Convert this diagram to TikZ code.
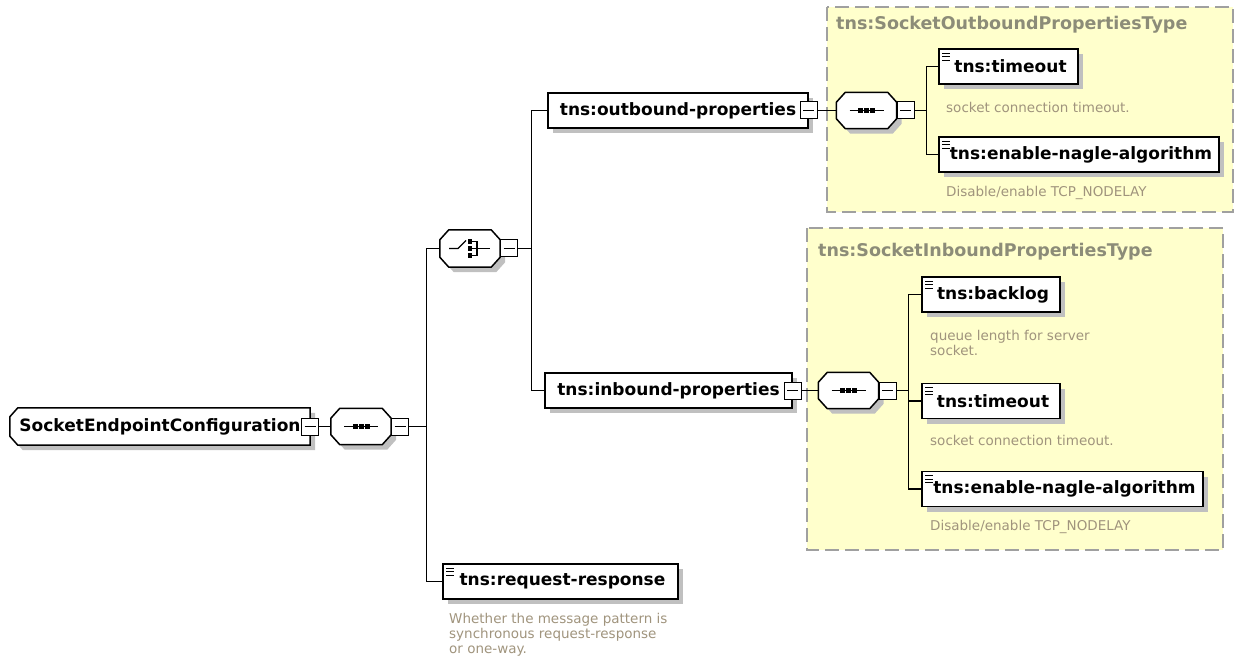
\documentclass[tikz,border=0pt]{standalone}
\usepackage{fontspec}
\setmainfont{DejaVu Sans}
\usetikzlibrary{shadows, backgrounds}

\definecolor{typefill}{RGB}{255,255,204}
\definecolor{typeline}{RGB}{160,160,160}
\definecolor{typetext}{RGB}{140,140,120}
\definecolor{doctext}{RGB}{160,148,125}
\definecolor{shadowgray}{RGB}{192,192,192}

% outline of a compositor node (#2 = shadow offset)
\newcommand\octpath[2]{([xshift=9pt+#2,yshift=-#2]#1.north west) -- ([xshift=-9pt+#2,yshift=-#2]#1.north east)
    -- ([xshift=#2,yshift=-10pt-#2]#1.north east) -- ([xshift=#2,yshift=10pt-#2]#1.south east)
    -- ([xshift=-9pt+#2,yshift=-#2]#1.south east) -- ([xshift=9pt+#2,yshift=-#2]#1.south west)
    -- ([xshift=#2,yshift=10pt-#2]#1.south west) -- ([xshift=#2,yshift=-10pt-#2]#1.north west) -- cycle}
% outline of the root element, left corners cut
\newcommand\rootpath[2]{([xshift=8pt+#2,yshift=-#2]#1.north west) -- ([xshift=#2,yshift=-#2]#1.north east)
    -- ([xshift=#2,yshift=-#2]#1.south east) -- ([xshift=8pt+#2,yshift=-#2]#1.south west)
    -- ([xshift=#2,yshift=9pt-#2]#1.south west) -- ([xshift=#2,yshift=-9pt-#2]#1.north west) -- cycle}

\tikzset{
    elem/.style={draw, fill=white, line width=1.5pt, minimum height=35pt, inner sep=0pt,
        font=\fontsize{17}{20}\selectfont\bfseries,
        drop shadow={shadow xshift=5pt, shadow yshift=-5pt, fill=shadowgray, opacity=1}},
    leaf/.style={elem, path picture={
        \foreach \k in {4,7.5,11}
            \draw[line width=0.9pt] ([xshift=3pt,yshift=-\k pt]path picture bounding box.north west) -- ++(8pt,0);}},
    rootbox/.style={minimum width=300pt, minimum height=37pt, inner sep=0pt,
        font=\fontsize{17}{20}\selectfont\bfseries},
    comp/.style={minimum width=60pt, minimum height=36pt, inner sep=0pt},
    minus/.style={draw, fill=white, line width=1pt, minimum size=17pt, inner sep=0pt,
        path picture={\draw[line width=1pt] ([xshift=3pt]path picture bounding box.west) -- ([xshift=-3pt]path picture bounding box.east);}},
    wire/.style={line width=1.4pt},
    typebox/.style={fill=typefill, draw=typeline, line width=1.5pt, dash pattern=on 14pt off 6pt},
    typetitle/.style={font=\fontsize{17.5}{20}\selectfont\bfseries, text=typetext, inner sep=0pt},
    doc/.style={font=\fontsize{13.5}{15}\selectfont, text=doctext, inner sep=0pt, align=left}
}

\begin{document}
\begin{tikzpicture}[x=1pt, y=-1pt]
\useasboundingbox (0,0) rectangle (1234,668);

% Type boxes
\draw[typebox] (827,7) rectangle (1233,212);
\draw[typebox] (807,228) rectangle (1223,550);
\node[typetitle, anchor=west] (outtitle) at (836,25) {tns:SocketOutboundPropertiesType};
\node[typetitle, anchor=west] (intitle) at (818,252) {tns:SocketInboundPropertiesType};

% Root element
\node[rootbox] (root) at (160,426.5) {SocketEndpointConfiguration};
\begin{scope}[on background layer]
    \fill[shadowgray] \rootpath{root}{5pt};
    \filldraw[fill=white, line width=1.5pt] \rootpath{root}{0pt};
\end{scope}
\node[minus] (rootm) at (root.east) {};

% Compositors
\node[comp] (rseq) at (361,426.5) {};
\node[comp, minimum height=37pt] (choice) at (470,248.5) {};
\node[comp] (oseq) at (866.5,110.5) {};
\node[comp] (iseq) at (848.5,390.5) {};
\foreach \c in {rseq,choice,oseq,iseq} {
    \fill[shadowgray] \octpath{\c}{5pt};
    \filldraw[fill=white, line width=1.5pt] \octpath{\c}{0pt};
}
\foreach \c in {rseq,oseq,iseq} {
    \begin{scope}[shift={(\c.center)}]
        \draw[line width=1.2pt] (-17,0) -- (17,0);
        \foreach \d in {-6,0,6}
            \fill (\d-2.5,-2.5) rectangle (\d+2.5,2.5);
    \end{scope}
}
\begin{scope}[shift={(choice.center)}, line width=1.2pt]
    \draw (-21,0) -- (-12,0) -- (-4,-8);
    \foreach \d in {-7,0,7}
        \fill (-2.3,\d-2.3) rectangle (2.3,\d+2.3);
    \draw (2,-7) -- (7,-7) -- (7,7) -- (2,7);
    \draw (2,0) -- (20,0);
\end{scope}
\node[minus, anchor=west] (rseqm) at (rseq.east) {};
\node[minus, anchor=west] (choicem) at (choice.east) {};
\node[minus, anchor=west] (oseqm) at (oseq.east) {};
\node[minus, anchor=west] (iseqm) at (iseq.east) {};

% Outbound properties
\node[elem, minimum width=260pt] (outp) at (678,110.5) {tns:outbound-properties};
\node[minus] (outpm) at (outp.east) {};
\node[leaf, minimum width=139pt] (otime) at (1008.5,66.5) {\hspace{4pt}tns:timeout};
\node[doc, anchor=west] (otimedoc) at (946,107) {socket connection timeout.};
\node[leaf, minimum width=280pt] (onagle) at (1079,154.5) {\hspace{4pt}tns:enable-nagle-algorithm};
\node[doc, anchor=west] (onagledoc) at (946,193) {Disable/enable TCP\_NODELAY};

% Inbound properties
\node[elem, minimum width=247pt] (inp) at (668.5,390.5) {tns:inbound-properties};
\node[minus] (inpm) at (inp.east) {};
\node[leaf, minimum width=138pt] (iback) at (991,294.5) {\hspace{4pt}tns:backlog};
\node[doc, anchor=west] (ibackdoc) at (930,343) {queue length for server\\socket.};
\node[leaf, minimum width=138pt] (itime) at (991,401) {\hspace{4pt}tns:timeout};
\node[doc, anchor=west] (itimedoc) at (930,440) {socket connection timeout.};
\node[leaf, minimum width=281pt] (inagle) at (1062.5,489) {\hspace{4pt}tns:enable-nagle-algorithm};
\node[doc, anchor=west] (inagledoc) at (930,527) {Disable/enable TCP\_NODELAY};

% Request-response
\node[leaf, minimum width=235pt] (reqresp) at (560.5,581.5) {\hspace{4pt}tns:request-response};
\node[doc, anchor=west] (reqrespdoc) at (449,635) {Whether the message pattern is\\synchronous request-response\\or one-way.};

% Connectors
\coordinate (lt) at ([xshift=17pt]rseqm.east);
\coordinate (rt) at ([xshift=13pt]choicem.east);
\coordinate (ot) at ([xshift=12pt]oseqm.east);
\coordinate (it) at ([xshift=12pt]iseqm.east);
\draw[wire] (rootm.east) -- (rseq.west);
\draw[wire] (rseqm.east) -- (lt);
\draw[wire] (lt) |- (choice.west);
\draw[wire] (lt) |- (reqresp.west);
\draw[wire] (choicem.east) -- (rt);
\draw[wire] (rt) |- (outp.west);
\draw[wire] (rt) |- (inp.west);
\draw[wire] (outpm.east) -- (oseq.west);
\draw[wire] (oseqm.east) -- (ot);
\draw[wire] (ot) |- (otime.west);
\draw[wire] (ot) |- (onagle.west);
\draw[wire] (inpm.east) -- (iseq.west);
\draw[wire] (iseqm.east) -- (it);
\draw[wire] (it) |- (iback.west);
\draw[wire] (it) |- (itime.west);
\draw[wire] (it) |- (inagle.west);

\end{tikzpicture}
\end{document}
